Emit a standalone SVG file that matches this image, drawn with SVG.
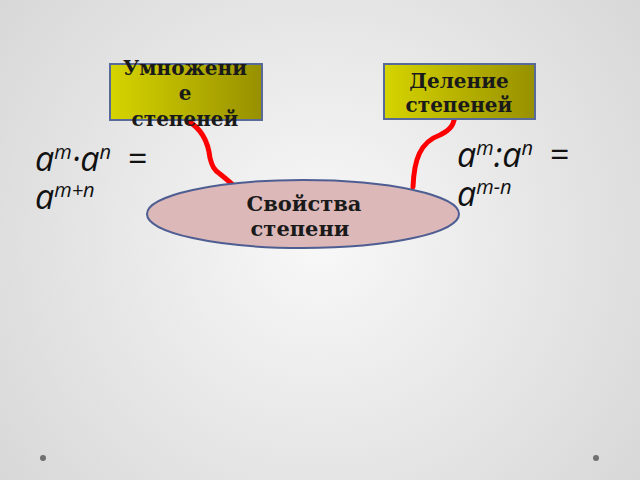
<svg xmlns="http://www.w3.org/2000/svg" width="640" height="480" viewBox="0 0 640 480">
<defs>
<radialGradient id="bg" cx="320" cy="240" r="420" gradientUnits="userSpaceOnUse">
<stop offset="0" stop-color="#f8f8f8"/><stop offset="1" stop-color="#d6d6d6"/>
</radialGradient>
<linearGradient id="box" x1="0" y1="0" x2="1" y2="0">
<stop offset="0" stop-color="#d6d400"/><stop offset="1" stop-color="#979000"/>
</linearGradient>
<style>
.box{fill:url(#box);stroke:#5a6a98;stroke-width:2}
.t{font-family:"DejaVu Serif","Liberation Serif",serif;font-weight:bold;font-size:20px;fill:#1a1a1a;text-anchor:middle}
.f{font-family:"Open Sans","Liberation Sans",sans-serif;font-style:italic;fill:#111}
.c{fill:none;stroke:#ff0000;stroke-width:5;stroke-linecap:round;stroke-linejoin:round}
</style>
</defs>
<rect width="640" height="480" fill="url(#bg)"/>
<circle cx="43" cy="458" r="3" fill="#707070"/>
<circle cx="596" cy="458" r="3" fill="#707070"/>
<g id="connectors">
<path class="c" d="M188,121 C200,128 208,140 210,158 C212,166 214,170 220,174 C225,178 230,182 234,186"/>
<path class="c" d="M455,112 C455,125 450,130 440,135 C420,142 414,160 413,187"/>
</g>
<g id="node-mult">
<rect class="box" x="110" y="64" width="152" height="56"/>
<text class="t" x="185" y="75">Умножени</text>
<text class="t" x="185" y="100">е</text>
<text class="t" x="185" y="126">степеней</text>
</g>
<g id="node-div">
<rect class="box" x="384" y="64" width="151" height="55"/>
<text class="t" x="459" y="88">Деление</text>
<text class="t" x="459" y="112">степеней</text>
</g>
<g id="node-props">
<ellipse cx="303" cy="214" rx="156" ry="34" fill="#dcb8b8" stroke="#4e5e92" stroke-width="2"/>
<text class="t" x="304" y="211" style="font-size:21px">Свойства</text>
<text class="t" x="300" y="236" style="font-size:21px">степени</text>
</g>
<g id="formula-mult">
<text class="f" x="35" y="171" font-size="34">a<tspan font-size="20" dy="-12">m</tspan><tspan dy="12">·a</tspan><tspan font-size="20" dy="-12">n</tspan><tspan x="128" dy="12" font-style="normal">=</tspan></text>
<text class="f" x="35" y="209" font-size="34">a<tspan font-size="20" dy="-12">m+n</tspan></text>
</g>
<g id="formula-div">
<text class="f" x="457" y="167" font-size="34">a<tspan font-size="20" dy="-12">m</tspan><tspan dy="12">:a</tspan><tspan font-size="20" dy="-12">n</tspan><tspan x="550" dy="12" font-style="normal">=</tspan></text>
<text class="f" x="457" y="206" font-size="34">a<tspan font-size="20" dy="-12">m-n</tspan></text>
</g>
</svg>
